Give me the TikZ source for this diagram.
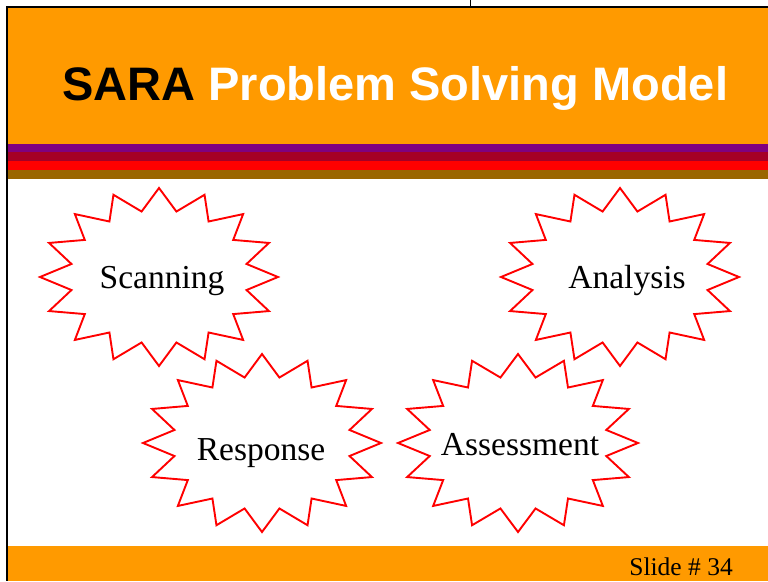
\documentclass[tikz,border=0pt]{standalone}
\usepackage{fontspec}
\setmainfont{Liberation Serif}
\newfontfamily\titlefont{Liberation Sans}
\definecolor{slideorange}{HTML}{FF9A00}
\definecolor{stripepurple}{HTML}{800080}
\definecolor{stripedark}{HTML}{A50026}
\definecolor{stripebrown}{HTML}{9A6600}
\tikzset{
  burst/.style={red, line width=1.9pt, line join=miter},
  bursttext/.style={anchor=base, inner sep=0pt, font=\fontsize{33.5}{40}\selectfont},
}
\begin{document}
\begin{tikzpicture}[x=1pt,y=-1pt]
\useasboundingbox (0,0) rectangle (768,581);
\fill[white] (0,0) rectangle (768,581);

% header and stripes
\fill[slideorange] (8,8) rectangle (768,144);
\fill[stripepurple] (8,144) rectangle (768,152);
\fill[stripedark] (8,152) rectangle (768,161);
\fill[red] (8,161) rectangle (768,170);
\fill[stripebrown] (8,170) rectangle (768,179);
\fill[slideorange] (8,546) rectangle (768,581);

% frame lines
\draw[line width=2pt] (6,7) -- (768,7);
\draw[line width=2pt] (7,6) -- (7,581);
\draw[line width=1pt] (470,0) -- (470,7);

\node[anchor=base west, inner sep=0pt, font=\titlefont\bfseries\fontsize{47}{56}\selectfont] (title) at (62,100) {SARA \textcolor{white}{Problem Solving Model}};

% the four bursts
\draw[burst, shift={(159,277)}] plot[samples at={0,11.25,...,348.75}] ({119*cos(\x)*(1-0.25*mod(round(\x/11.25),2))},{89*sin(\x)*(1-0.25*mod(round(\x/11.25),2))}) -- cycle;
\draw[burst, shift={(620,277)}] plot[samples at={0,11.25,...,348.75}] ({119*cos(\x)*(1-0.25*mod(round(\x/11.25),2))},{89*sin(\x)*(1-0.25*mod(round(\x/11.25),2))}) -- cycle;
\draw[burst, shift={(262,443)}] plot[samples at={0,11.25,...,348.75}] ({119*cos(\x)*(1-0.25*mod(round(\x/11.25),2))},{89*sin(\x)*(1-0.25*mod(round(\x/11.25),2))}) -- cycle;
\draw[burst, shift={(518,443)}] plot[samples at={0,11.25,...,348.75}] ({120*cos(\x)*(1-0.25*mod(round(\x/11.25),2))},{89*sin(\x)*(1-0.25*mod(round(\x/11.25),2))}) -- cycle;

\node[bursttext] (scan) at (162,288) {Scanning};
\node[bursttext] (anal) at (627,288) {Analysis};
\node[bursttext] (resp) at (261,460) {Response};
\node[bursttext] (asse) at (520,455) {Assessment};

\node[anchor=base east, inner sep=0pt, font=\fontsize{25.5}{30}\selectfont] (slideno) at (733,575) {Slide \# 34};
\end{tikzpicture}
\end{document}
